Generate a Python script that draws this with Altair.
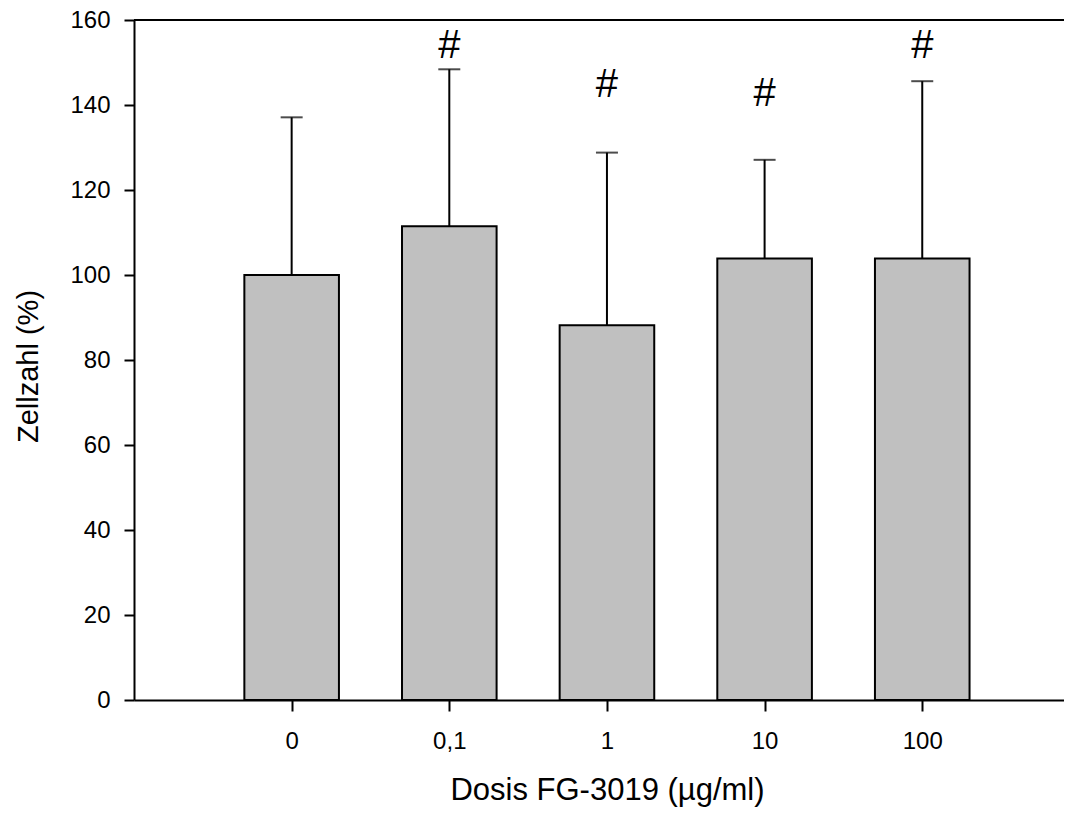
import altair as alt
import pandas as pd

# ---- data ----
categories = ["0", "0,1", "1", "10", "100"]
means = [100.0, 111.5, 88.2, 103.9, 103.9]
upper = [137.1, 148.4, 128.8, 127.1, 145.6]
sig_labels = ["", "#", "#", "#", "#"]
sig_y = [0.0, 151.0, 142.0, 139.8, 151.0]
y_ticks = [0, 20, 40, 60, 80, 100, 120, 140, 160]

positions = list(range(1, len(categories) + 1))

df = pd.DataFrame({"pos": positions, "cat": categories, "mean": means, "upper": upper})
ann = pd.DataFrame({"pos": positions, "label": sig_labels, "y": sig_y})
ann = ann[ann["label"] != ""]

W, H = 930, 680
STEP = 157.65
XMAX = W / STEP
FONT = "Liberation Sans"
X_TITLE = "Dosis FG-3019 (\u00b5g/ml)"
Y_TITLE = "Zellzahl (%)"

label_expr = "[" + ",".join("'" + c + "'" for c in categories) + "][datum.value - 1]"

x_scale = alt.Scale(domain=[0, XMAX], nice=False, zero=False)
y_scale = alt.Scale(domain=[0, 160], nice=False)

x_axis = alt.Axis(
    values=positions, labelExpr=label_expr, title=X_TITLE,
    tickSize=11, labelBaseline="alphabetic", labelPadding=37,
    titleX=473, titleY=99, titleBaseline="alphabetic", titleAlign="center",
    titleFontSize=31,
)
y_axis = alt.Axis(
    values=y_ticks, title=Y_TITLE, tickSize=10, labelPadding=14,
    titleX=-97, titleY=346, titleBaseline="alphabetic", titleAlign="center",
    titleFontSize=29,
)


def xenc(field):
    return alt.X(field, scale=x_scale, axis=x_axis)


def yenc(field):
    return alt.Y(field, scale=y_scale, axis=y_axis)


base = alt.Chart(df)

bars = base.transform_calculate(
    x0="datum.pos - 0.3", x1="datum.pos + 0.3", zero="0"
).mark_bar(fill="#c0c0c0", stroke="black", strokeWidth=2).encode(
    x=xenc("x0:Q"), x2="x1:Q", y=yenc("mean:Q"), y2="zero:Q"
)

err = base.mark_rule(color="black", strokeWidth=2).encode(
    x=xenc("pos:Q"), y=yenc("mean:Q"), y2="upper:Q"
)

caps = base.mark_tick(orient="horizontal", size=22, thickness=2, color="black").encode(
    x=xenc("pos:Q"), y=yenc("upper:Q")
)

sig = alt.Chart(ann).mark_text(
    font=FONT, fontSize=40, baseline="alphabetic", align="center", color="black"
).encode(x=xenc("pos:Q"), y=yenc("y:Q"), text="label:N")

frame_top = alt.Chart(pd.DataFrame({"k": [0]})).mark_rule(color="black", strokeWidth=2).encode(
    x=alt.value(0), x2=alt.value(W), y=alt.value(0)
)

chart = alt.layer(bars, err, caps, sig, frame_top).properties(
    width=W, height=H,
    autosize=alt.AutoSizeParams(type="none"),
    padding={"left": 126, "top": 12, "right": 0, "bottom": 108},
).configure_view(stroke=None).configure_axis(
    domainColor="black", domainWidth=2, tickColor="black", tickWidth=2,
    labelFont=FONT, labelFontSize=24, labelColor="black",
    titleFont=FONT, titleFontSize=28, titleFontWeight="normal", titleColor="black",
    grid=False,
)

chart.save("out.html", embed_options={"renderer": "svg", "actions": False})
